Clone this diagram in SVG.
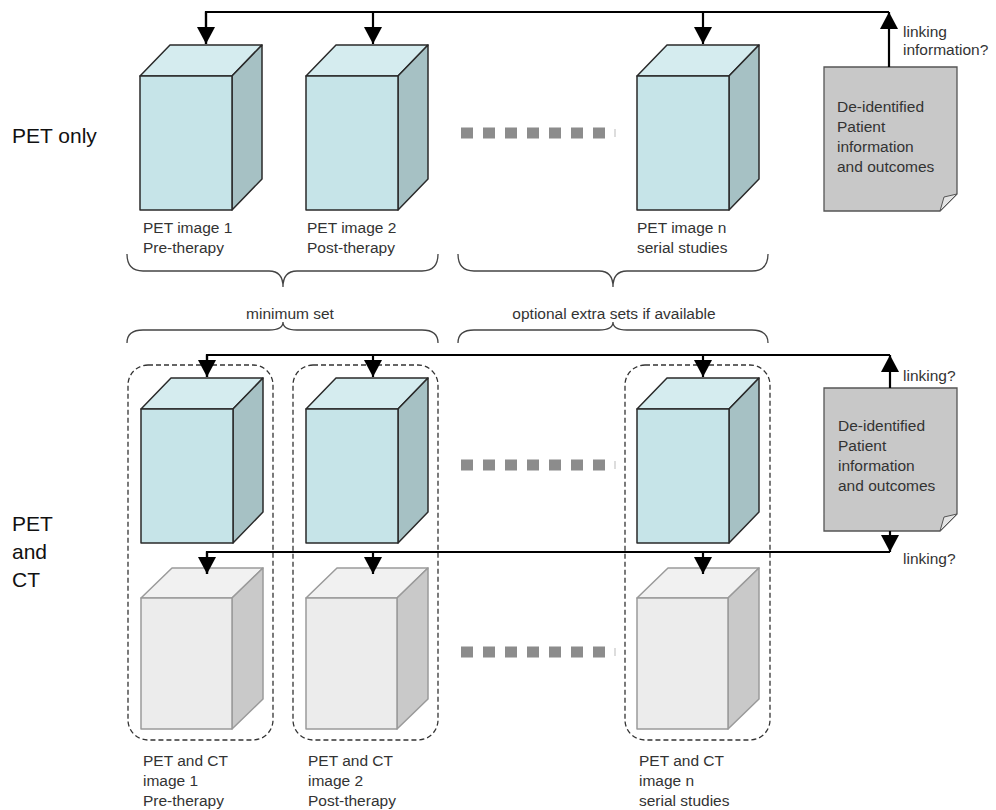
<svg xmlns="http://www.w3.org/2000/svg" width="996" height="810" viewBox="0 0 996 810">
<defs>
<style>
text{font-family:"Liberation Sans",Arial,sans-serif;fill:#333;}
.lbl{font-size:15.5px;}
.side{font-size:21px;fill:#111;}
.pf{fill:#c6e4e8;stroke:#2a2a2a;stroke-width:1.5;stroke-linejoin:round;}
.pt{fill:#d5ecef;stroke:#2a2a2a;stroke-width:1.5;stroke-linejoin:round;}
.ps{fill:#a6c1c4;stroke:#2a2a2a;stroke-width:1.5;stroke-linejoin:round;}
.cf{fill:#ececec;stroke:#9a9a9a;stroke-width:1.5;stroke-linejoin:round;}
.ct{fill:#f1f1f1;stroke:#9a9a9a;stroke-width:1.5;stroke-linejoin:round;}
.cs{fill:#c9c9c9;stroke:#9a9a9a;stroke-width:1.5;stroke-linejoin:round;}
.conn{fill:none;stroke:#000;stroke-width:2.2;}
.brace{fill:none;stroke:#444;stroke-width:1.3;}
.box{fill:none;stroke:#333;stroke-width:1.3;stroke-dasharray:5 3;}
.doc{fill:#c8c8c8;stroke:#555;stroke-width:1.3;}
.fold{fill:#e4e4e4;stroke:#555;stroke-width:1;}
.dot{fill:#8c8c8c;}
</style>
<marker id="ah" viewBox="0 0 17 18" refX="17" refY="9" markerWidth="17" markerHeight="18" markerUnits="userSpaceOnUse" orient="auto">
<path d="M0,0 L17,9 L0,18 z" fill="#000"/>
</marker>
<g id="petcube">
<polygon class="pt" points="0,0 30,-31 122,-31 92,0"/>
<polygon class="ps" points="92,0 122,-31 122,103 92,134"/>
<rect class="pf" x="0" y="0" width="92" height="134"/>
</g>
<g id="ctcube">
<polygon class="ct" points="0,0 31,-30 122,-30 91,0"/>
<polygon class="cs" points="91,0 122,-30 122,101 91,131"/>
<rect class="cf" x="0" y="0" width="91" height="131"/>
</g>
<g id="dots">
<rect class="dot" x="461" y="-5.5" width="12" height="11"/>
<rect class="dot" x="483" y="-5.5" width="12" height="11"/>
<rect class="dot" x="505" y="-5.5" width="12" height="11"/>
<rect class="dot" x="527" y="-5.5" width="12" height="11"/>
<rect class="dot" x="549" y="-5.5" width="12" height="11"/>
<rect class="dot" x="571" y="-5.5" width="12" height="11"/>
<rect class="dot" x="593" y="-5.5" width="12" height="11"/>
<rect x="614.5" y="-4" width="1" height="8" fill="#bbb"/>
</g>
</defs>
<rect width="996" height="810" fill="#fff"/>

<text class="side" x="12" y="143">PET only</text>
<text class="side" x="12" y="531">PET</text>
<text class="side" x="12" y="559">and</text>
<text class="side" x="12" y="587">CT</text>

<!-- dashed group boxes -->
<g id="groups">
<rect class="box" x="128" y="365" width="145" height="375" rx="20"/>
<rect class="box" x="293" y="365" width="145" height="375" rx="20"/>
<rect class="box" x="625" y="365" width="145" height="375" rx="20"/>
</g>

<!-- top row -->
<g id="pet1"><use href="#petcube" x="140" y="76"/>
<text class="lbl" x="143" y="233">PET image 1</text><text class="lbl" x="143" y="253">Pre-therapy</text></g>
<g id="pet2"><use href="#petcube" x="306" y="76"/>
<text class="lbl" x="307" y="233">PET image 2</text><text class="lbl" x="307" y="253">Post-therapy</text></g>
<g id="petn"><use href="#petcube" x="637" y="76"/>
<text class="lbl" x="637" y="233">PET image n</text><text class="lbl" x="637" y="253">serial studies</text></g>
<g id="dots1"><use href="#dots" y="133"/></g>
<g id="doc1">
<path class="doc" d="M824,67 H957 V194 L940,211 H824 Z"/>
<path class="fold" d="M957,194 L940,211 L944,197 Z"/>
<text class="lbl" x="837" y="112">De-identified</text>
<text class="lbl" x="837" y="132">Patient</text>
<text class="lbl" x="837" y="152">information</text>
<text class="lbl" x="837" y="172">and outcomes</text>
</g>
<text class="lbl" x="903" y="37">linking</text>
<text class="lbl" x="903" y="55">information?</text>

<!-- braces -->
<g id="braces">
<path class="brace" d="M127,254 Q127,271 143,271 L269,271 Q283,271 283,287 Q283,271 297,271 L422,271 Q438,271 438,254"/>
<path class="brace" d="M458,254 Q458,271 474,271 L599,271 Q613,271 613,287 Q613,271 627,271 L752,271 Q768,271 768,254"/>
<path class="brace" d="M127,343 Q127,330 143,330 L269,330 Q283,330 283,322 Q283,330 297,330 L422,330 Q438,330 438,343"/>
<path class="brace" d="M458,343 Q458,330 474,330 L599,330 Q613,330 613,322 Q613,330 627,330 L752,330 Q768,330 768,343"/>
</g>
<text class="lbl" x="290" y="319" text-anchor="middle">minimum set</text>
<text class="lbl" x="614" y="319" text-anchor="middle">optional extra sets if available</text>

<!-- middle row -->
<g id="pet1b"><use href="#petcube" x="141" y="409"/></g>
<g id="pet2b"><use href="#petcube" x="306" y="409"/></g>
<g id="petnb"><use href="#petcube" x="637" y="409"/></g>
<g id="dots2"><use href="#dots" y="465"/></g>
<g id="doc2">
<path class="doc" d="M824,388 H957 V514 L940,531 H824 Z"/>
<path class="fold" d="M957,514 L940,531 L944,517 Z"/>
<text class="lbl" x="838" y="431">De-identified</text>
<text class="lbl" x="838" y="451">Patient</text>
<text class="lbl" x="838" y="471">information</text>
<text class="lbl" x="838" y="491">and outcomes</text>
</g>
<text class="lbl" x="903" y="381">linking?</text>
<text class="lbl" x="903" y="564">linking?</text>

<!-- bottom row -->
<g id="ct1"><use href="#ctcube" x="141" y="598"/>
<text class="lbl" x="143" y="766">PET and CT</text><text class="lbl" x="143" y="786">image 1</text><text class="lbl" x="143" y="806">Pre-therapy</text></g>
<g id="ct2"><use href="#ctcube" x="306" y="598"/>
<text class="lbl" x="308" y="766">PET and CT</text><text class="lbl" x="308" y="786">image 2</text><text class="lbl" x="308" y="806">Post-therapy</text></g>
<g id="ctn"><use href="#ctcube" x="637" y="598"/>
<text class="lbl" x="639" y="766">PET and CT</text><text class="lbl" x="639" y="786">image n</text><text class="lbl" x="639" y="806">serial studies</text></g>
<g id="dots3"><use href="#dots" y="652"/></g>

<!-- connectors -->
<g id="connectors">
<path class="conn" d="M206,44 V12 H889"/>
<path class="conn" d="M206,12 V44" marker-end="url(#ah)"/>
<path class="conn" d="M373,12 V44" marker-end="url(#ah)"/>
<path class="conn" d="M703,12 V44" marker-end="url(#ah)"/>
<path class="conn" d="M889,67 V12" marker-end="url(#ah)"/>

<path class="conn" d="M207,377 V355 H890"/>
<path class="conn" d="M207,355 V377" marker-end="url(#ah)"/>
<path class="conn" d="M373,355 V377" marker-end="url(#ah)"/>
<path class="conn" d="M703,355 V377" marker-end="url(#ah)"/>
<path class="conn" d="M890,388 V355" marker-end="url(#ah)"/>

<path class="conn" d="M207,574 V552 H890"/>
<path class="conn" d="M207,552 V574" marker-end="url(#ah)"/>
<path class="conn" d="M373,552 V574" marker-end="url(#ah)"/>
<path class="conn" d="M703,552 V574" marker-end="url(#ah)"/>
<path class="conn" d="M890,531 V552" marker-end="url(#ah)"/>
</g>
</svg>
